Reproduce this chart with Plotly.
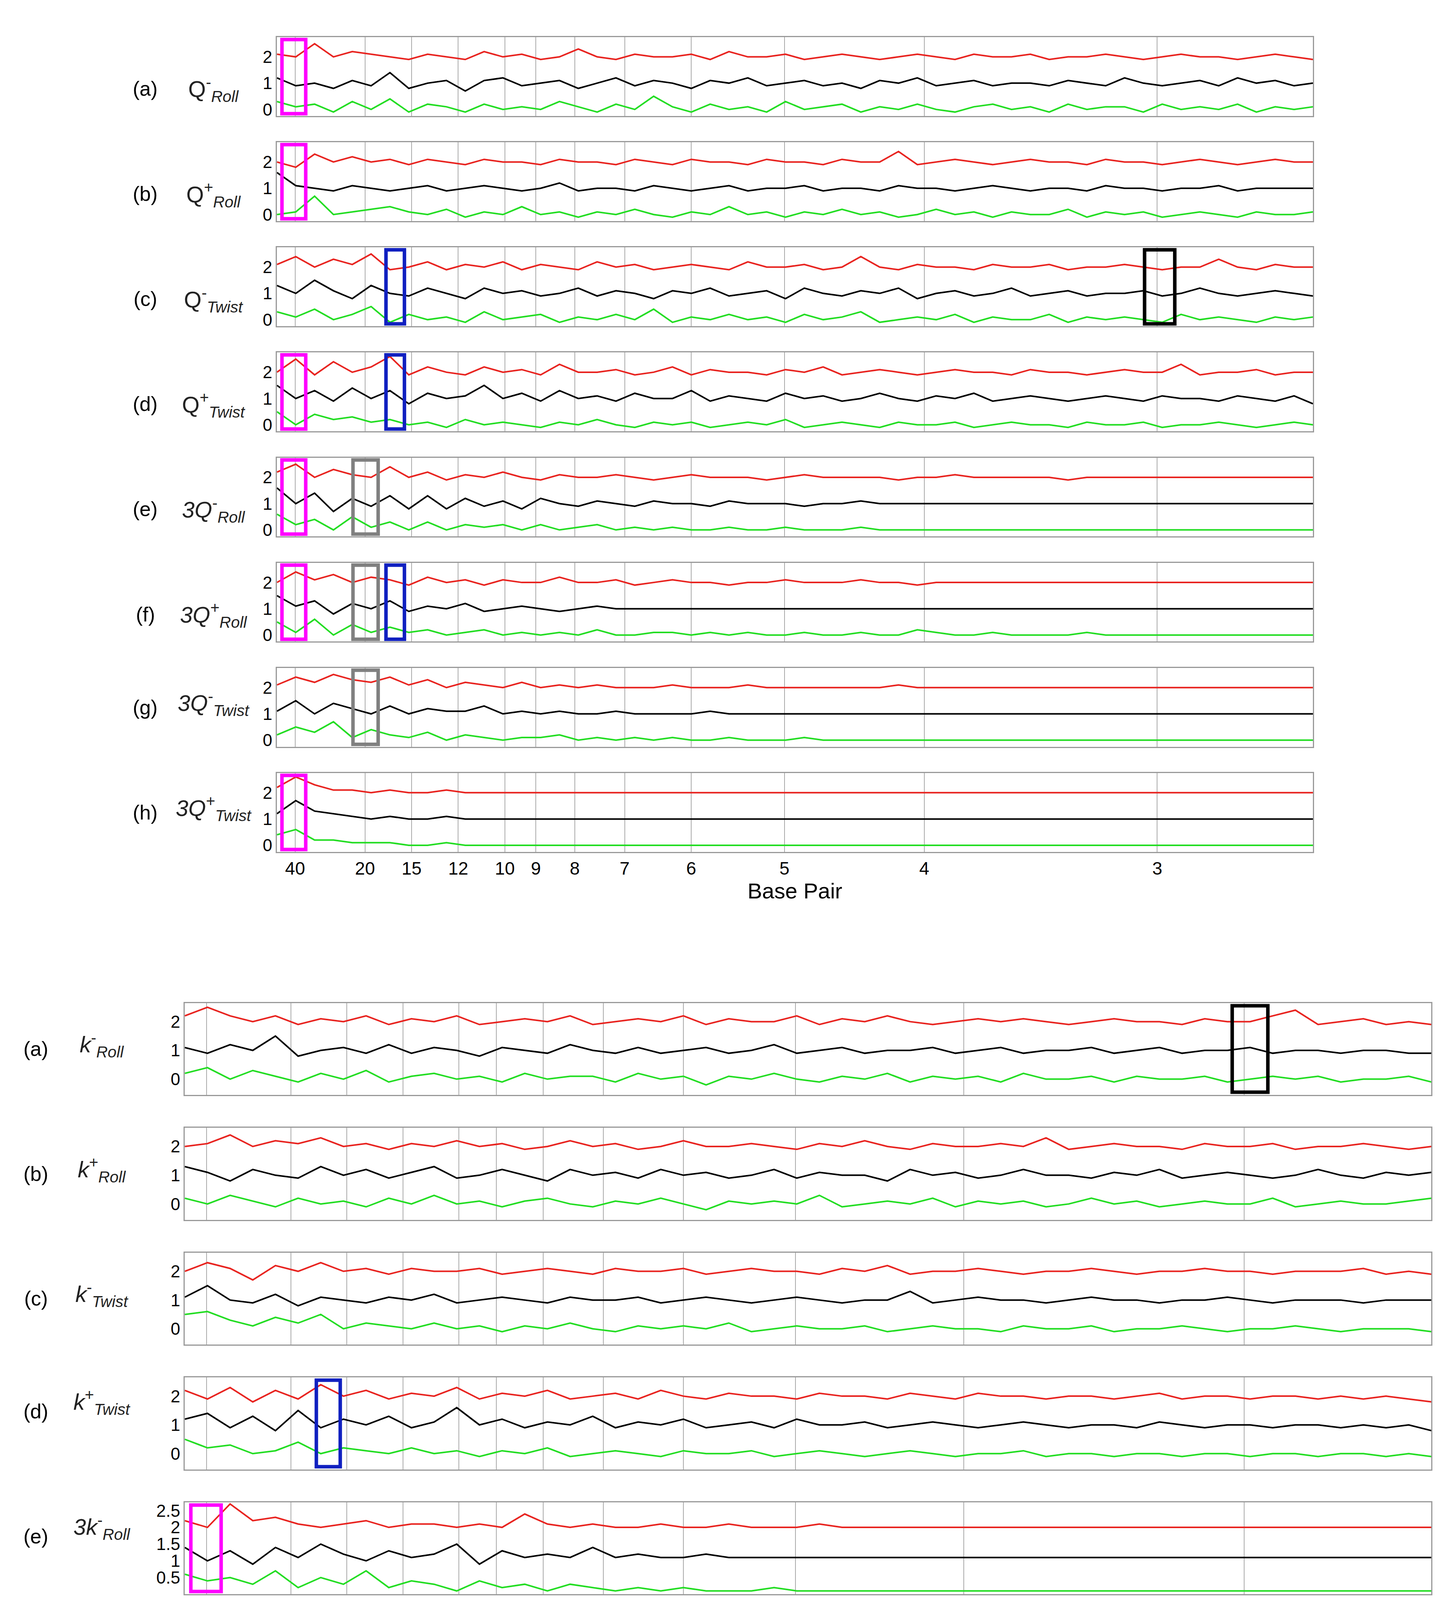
import numpy as np
import plotly.graph_objects as go

# tick labels (base pair period) shown on the frequency axis
bp_ticks = [40, 20, 15, 12, 10, 9, 8, 7, 6, 5, 4, 3]
freq_min, freq_max = 0.0185, 0.389

panel_letters = ["(a)", "(b)", "(c)", "(d)", "(e)", "(f)", "(g)", "(h)"]
top_names = ["Q<sup>-</sup><sub><i>Roll</i></sub>", "Q<sup>+</sup><sub><i>Roll</i></sub>",
             "Q<sup>-</sup><sub><i>Twist</i></sub>", "Q<sup>+</sup><sub><i>Twist</i></sub>",
             "<i>3Q</i><sup>-</sup><sub><i>Roll</i></sub>", "<i>3Q</i><sup>+</sup><sub><i>Roll</i></sub>",
             "<i>3Q</i><sup>-</sup><sub><i>Twist</i></sub>", "<i>3Q</i><sup>+</sup><sub><i>Twist</i></sub>"]
bot_names = ["<i>k</i><sup>-</sup><sub><i>Roll</i></sub>", "<i>k</i><sup>+</sup><sub><i>Roll</i></sub>",
             "<i>k</i><sup>-</sup><sub><i>Twist</i></sub>", "<i>k</i><sup>+</sup><sub><i>Twist</i></sub>",
             "<i>3k</i><sup>-</sup><sub><i>Roll</i></sub>", "<i>3k</i><sup>+</sup><sub><i>Roll</i></sub>",
             "<i>3k</i><sup>-</sup><sub><i>Twist</i></sub>", "<i>3k</i><sup>+</sup><sub><i>Twist</i></sub>"]

# ---- top group series (red ~2, black ~1, green ~0) ----
top_a_r = [2.1,2.0,2.5,2.0,2.2,2.1,2.0,1.9,2.1,2.0,1.9,2.2,2.0,2.1,1.9,2.0,2.3,2.0,1.9,2.1,2.0,2.0,2.1,1.9,2.2,2.0,2.0,2.1,1.9,2.0,2.1,2.0,1.9,2.0,2.1,2.0,1.9,2.1,2.0,2.0,2.1,1.9,2.0,2.0,2.1,2.0,1.9,2.0,2.1,2.0,2.0,1.9,2.0,2.1,2.0,1.9]
top_a_k = [1.2,0.9,1.0,0.8,1.1,0.9,1.4,0.8,1.0,1.1,0.7,1.1,1.2,0.9,1.0,1.1,0.8,1.0,1.2,0.9,1.1,1.0,0.8,1.1,1.0,1.2,0.9,1.0,1.1,0.9,1.0,0.8,1.1,1.0,1.2,0.9,1.0,1.1,0.9,1.0,1.0,0.9,1.1,1.0,0.9,1.2,1.0,0.9,1.0,1.1,0.9,1.2,1.0,1.1,0.9,1.0]
top_a_g = [0.3,0.1,0.2,-0.1,0.3,0.0,0.4,-0.1,0.2,0.1,-0.1,0.2,0.0,0.1,0.0,0.3,0.1,-0.1,0.2,0.0,0.5,0.1,-0.1,0.2,0.0,0.1,-0.1,0.3,0.0,0.1,0.2,-0.1,0.1,0.0,0.2,0.0,-0.1,0.1,0.2,0.0,0.1,-0.1,0.2,0.0,0.1,0.1,-0.1,0.2,0.0,0.1,0.0,0.2,-0.1,0.1,0.0,0.1]
top_b_r = [2.0,1.8,2.3,2.0,2.2,2.0,2.1,1.9,2.1,2.0,1.9,2.1,2.0,2.0,1.9,2.1,2.0,2.0,1.9,2.1,2.0,1.9,2.1,2.0,2.0,1.9,2.1,2.0,2.0,1.9,2.1,2.0,2.0,2.4,1.9,2.0,2.1,2.0,1.9,2.0,2.1,2.0,2.0,1.9,2.1,2.0,2.0,1.9,2.0,2.1,2.0,1.9,2.0,2.1,2.0,2.0]
top_b_k = [1.6,1.1,1.0,0.9,1.1,1.0,0.9,1.0,1.1,0.9,1.0,1.1,1.0,0.9,1.0,1.2,0.9,1.0,1.0,0.9,1.1,1.0,0.9,1.0,1.1,0.9,1.0,1.0,1.1,0.9,1.0,1.0,0.9,1.1,1.0,1.0,0.9,1.0,1.1,1.0,0.9,1.0,1.0,0.9,1.1,1.0,1.0,0.9,1.0,1.0,1.1,0.9,1.0,1.0,1.0,1.0]
top_b_g = [0.0,0.1,0.7,0.0,0.1,0.2,0.3,0.1,0.0,0.2,-0.1,0.1,0.0,0.3,0.0,0.1,-0.1,0.1,0.0,0.2,0.0,-0.1,0.1,0.0,0.3,0.0,0.1,-0.1,0.1,0.0,0.2,0.0,0.1,-0.1,0.0,0.2,0.0,0.1,-0.1,0.1,0.0,0.0,0.2,-0.1,0.1,0.0,0.1,-0.1,0.0,0.1,0.0,-0.1,0.1,0.0,0.0,0.1]
top_c_r = [2.1,2.4,2.0,2.3,2.1,2.5,1.9,2.0,2.2,1.9,2.1,2.0,2.2,1.9,2.1,2.0,1.9,2.2,2.0,2.1,1.9,2.0,2.1,2.0,1.9,2.2,2.0,2.0,2.1,1.9,2.0,2.4,2.0,1.9,2.1,2.0,2.0,1.9,2.1,2.0,2.0,2.1,1.9,2.0,2.0,2.1,2.0,1.9,2.0,2.0,2.3,2.0,1.9,2.1,2.0,2.0]
top_c_k = [1.3,1.0,1.5,1.1,0.8,1.3,1.0,0.9,1.2,1.0,0.8,1.2,1.0,1.1,0.9,1.0,1.2,0.9,1.1,1.0,0.8,1.1,1.0,1.2,0.9,1.0,1.1,0.8,1.2,1.0,0.9,1.1,1.0,1.2,0.8,1.0,1.1,0.9,1.0,1.2,0.9,1.0,1.1,0.9,1.0,1.0,1.1,0.9,1.0,1.2,1.0,0.9,1.0,1.1,1.0,0.9]
top_c_g = [0.3,0.1,0.4,0.0,0.2,0.5,-0.1,0.2,0.0,0.1,-0.1,0.3,0.0,0.1,0.2,-0.1,0.1,0.0,0.2,0.0,0.4,-0.1,0.1,0.0,0.2,0.0,0.1,-0.1,0.2,0.0,0.1,0.3,-0.1,0.0,0.1,0.0,0.2,-0.1,0.1,0.0,0.0,0.2,-0.1,0.1,0.0,0.1,0.0,-0.1,0.2,0.0,0.1,0.0,-0.1,0.1,0.0,0.1]
top_d_r = [2.0,2.5,1.9,2.4,2.0,2.2,2.6,1.9,2.2,2.0,1.9,2.2,2.0,2.1,1.9,2.3,2.0,2.0,2.1,1.9,2.0,2.2,1.9,2.1,2.0,2.0,1.9,2.1,2.0,2.2,1.9,2.0,2.1,2.0,1.9,2.0,2.1,2.0,2.0,1.9,2.1,2.0,2.0,1.9,2.0,2.1,2.0,2.0,2.3,1.9,2.0,2.0,2.1,1.9,2.0,2.0]
top_d_k = [1.5,1.0,1.3,0.9,1.4,1.0,1.3,0.8,1.2,1.0,1.1,1.5,1.0,1.2,0.9,1.3,1.0,1.1,0.9,1.2,1.0,1.0,1.3,0.9,1.1,1.0,0.9,1.2,1.0,1.1,0.9,1.0,1.2,1.0,0.9,1.1,1.0,1.2,0.9,1.0,1.1,1.0,0.9,1.0,1.1,1.0,0.9,1.1,1.0,1.0,0.9,1.1,1.0,0.9,1.1,0.8]
top_d_g = [0.5,0.0,0.4,0.2,0.3,0.1,0.2,0.0,0.1,-0.1,0.2,0.0,0.1,0.0,-0.1,0.1,0.0,0.2,0.0,-0.1,0.1,0.0,0.1,-0.1,0.0,0.1,0.0,0.2,-0.1,0.0,0.1,0.0,-0.1,0.1,0.0,0.0,0.1,-0.1,0.0,0.1,0.0,0.0,-0.1,0.1,0.0,0.0,0.1,-0.1,0.0,0.0,0.1,0.0,-0.1,0.0,0.1,0.0]
top_e_r = [2.2,2.5,2.0,2.3,2.1,2.0,2.4,2.0,2.2,1.9,2.1,2.0,2.2,2.0,1.9,2.1,2.0,2.0,2.1,2.0,1.9,2.0,2.1,2.0,2.0,2.0,1.9,2.0,2.1,2.0,2.0,2.0,2.0,1.9,2.0,2.0,2.1,2.0,2.0,2.0,2.0,2.0,1.9,2.0,2.0,2.0,2.0,2.0,2.0,2.0,2.0,2.0,2.0,2.0,2.0,2.0]
top_e_k = [1.6,1.0,1.4,0.7,1.2,0.9,1.3,0.8,1.3,0.8,1.2,0.9,1.1,0.8,1.2,1.0,0.9,1.1,1.0,0.9,1.1,1.0,1.0,0.9,1.1,1.0,1.0,1.0,0.9,1.0,1.0,1.1,1.0,1.0,1.0,1.0,1.0,1.0,1.0,1.0,1.0,1.0,1.0,1.0,1.0,1.0,1.0,1.0,1.0,1.0,1.0,1.0,1.0,1.0,1.0,1.0]
top_e_g = [0.6,0.2,0.4,0.0,0.5,0.1,0.3,0.0,0.3,0.0,0.2,0.1,0.2,0.0,0.2,0.0,0.1,0.2,0.0,0.1,0.0,0.1,0.0,0.0,0.1,0.0,0.0,0.1,0.0,0.0,0.0,0.1,0.0,0.0,0.0,0.0,0.0,0.0,0.0,0.0,0.0,0.0,0.0,0.0,0.0,0.0,0.0,0.0,0.0,0.0,0.0,0.0,0.0,0.0,0.0,0.0]
top_f_r = [2.0,2.4,2.1,2.3,2.0,2.2,2.1,1.9,2.2,2.0,2.1,1.9,2.1,2.0,2.0,2.2,2.0,2.0,2.1,1.9,2.0,2.1,2.0,2.0,1.9,2.0,2.0,2.1,2.0,2.0,2.0,2.1,2.0,2.0,1.9,2.0,2.0,2.0,2.0,2.0,2.0,2.0,2.0,2.0,2.0,2.0,2.0,2.0,2.0,2.0,2.0,2.0,2.0,2.0,2.0,2.0]
top_f_k = [1.5,1.1,1.3,0.8,1.2,1.0,1.3,0.9,1.1,1.0,1.2,0.9,1.0,1.1,1.0,0.9,1.0,1.1,1.0,1.0,1.0,1.0,1.0,1.0,1.0,1.0,1.0,1.0,1.0,1.0,1.0,1.0,1.0,1.0,1.0,1.0,1.0,1.0,1.0,1.0,1.0,1.0,1.0,1.0,1.0,1.0,1.0,1.0,1.0,1.0,1.0,1.0,1.0,1.0,1.0,1.0]
top_f_g = [0.5,0.1,0.6,0.0,0.4,0.1,0.3,0.1,0.2,0.0,0.1,0.2,0.0,0.1,0.0,0.1,0.0,0.2,0.0,0.0,0.1,0.1,0.0,0.1,0.0,0.1,0.0,0.0,0.1,0.0,0.0,0.1,0.0,0.0,0.2,0.1,0.0,0.0,0.1,0.0,0.0,0.0,0.0,0.1,0.0,0.0,0.0,0.0,0.0,0.0,0.0,0.0,0.0,0.0,0.0,0.0]
top_g_r = [2.1,2.4,2.2,2.5,2.3,2.2,2.4,2.1,2.3,2.0,2.2,2.1,2.0,2.2,2.0,2.1,2.0,2.1,2.0,2.0,2.0,2.1,2.0,2.0,2.0,2.1,2.0,2.0,2.0,2.0,2.0,2.0,2.0,2.1,2.0,2.0,2.0,2.0,2.0,2.0,2.0,2.0,2.0,2.0,2.0,2.0,2.0,2.0,2.0,2.0,2.0,2.0,2.0,2.0,2.0,2.0]
top_g_k = [1.1,1.5,1.0,1.4,1.2,1.0,1.3,1.0,1.2,1.1,1.1,1.3,1.0,1.1,1.0,1.1,1.0,1.0,1.1,1.0,1.0,1.0,1.0,1.1,1.0,1.0,1.0,1.0,1.0,1.0,1.0,1.0,1.0,1.0,1.0,1.0,1.0,1.0,1.0,1.0,1.0,1.0,1.0,1.0,1.0,1.0,1.0,1.0,1.0,1.0,1.0,1.0,1.0,1.0,1.0,1.0]
top_g_g = [0.2,0.5,0.3,0.7,0.1,0.4,0.2,0.1,0.3,0.0,0.2,0.1,0.0,0.1,0.1,0.2,0.0,0.1,0.0,0.1,0.0,0.1,0.0,0.0,0.1,0.0,0.0,0.0,0.1,0.0,0.0,0.0,0.0,0.0,0.0,0.0,0.0,0.0,0.0,0.0,0.0,0.0,0.0,0.0,0.0,0.0,0.0,0.0,0.0,0.0,0.0,0.0,0.0,0.0,0.0,0.0]
top_h_r = [2.2,2.6,2.3,2.1,2.1,2.0,2.1,2.0,2.0,2.1,2.0,2.0,2.0,2.0,2.0,2.0,2.0,2.0,2.0,2.0,2.0,2.0,2.0,2.0,2.0,2.0,2.0,2.0,2.0,2.0,2.0,2.0,2.0,2.0,2.0,2.0,2.0,2.0,2.0,2.0,2.0,2.0,2.0,2.0,2.0,2.0,2.0,2.0,2.0,2.0,2.0,2.0,2.0,2.0,2.0,2.0]
top_h_k = [1.2,1.7,1.3,1.2,1.1,1.0,1.1,1.0,1.0,1.1,1.0,1.0,1.0,1.0,1.0,1.0,1.0,1.0,1.0,1.0,1.0,1.0,1.0,1.0,1.0,1.0,1.0,1.0,1.0,1.0,1.0,1.0,1.0,1.0,1.0,1.0,1.0,1.0,1.0,1.0,1.0,1.0,1.0,1.0,1.0,1.0,1.0,1.0,1.0,1.0,1.0,1.0,1.0,1.0,1.0,1.0]
top_h_g = [0.4,0.6,0.2,0.2,0.1,0.1,0.1,0.0,0.0,0.1,0.0,0.0,0.0,0.0,0.0,0.0,0.0,0.0,0.0,0.0,0.0,0.0,0.0,0.0,0.0,0.0,0.0,0.0,0.0,0.0,0.0,0.0,0.0,0.0,0.0,0.0,0.0,0.0,0.0,0.0,0.0,0.0,0.0,0.0,0.0,0.0,0.0,0.0,0.0,0.0,0.0,0.0,0.0,0.0,0.0,0.0]

# ---- bottom group series ----
bot_a_r = [2.2,2.5,2.2,2.0,2.2,1.9,2.1,2.0,2.2,1.9,2.1,2.0,2.2,1.9,2.0,2.1,2.0,2.2,1.9,2.0,2.1,2.0,2.2,1.9,2.1,2.0,2.0,2.2,1.9,2.1,2.0,2.2,2.0,1.9,2.0,2.1,2.0,2.1,2.0,1.9,2.0,2.1,2.0,2.0,1.9,2.1,2.0,2.0,2.2,2.4,1.9,2.0,2.1,1.9,2.0,1.9]
bot_a_k = [1.1,0.9,1.2,1.0,1.5,0.8,1.0,1.1,0.9,1.2,0.9,1.1,1.0,0.8,1.1,1.0,0.9,1.2,1.0,0.9,1.1,0.9,1.0,1.1,0.9,1.0,1.2,0.9,1.0,1.1,0.9,1.0,1.0,1.1,0.9,1.0,1.1,0.9,1.0,1.0,1.1,0.9,1.0,1.1,0.9,1.0,1.0,1.1,0.9,1.0,1.0,0.9,1.0,1.0,0.9,0.9]
bot_a_g = [0.2,0.4,0.0,0.3,0.1,-0.1,0.2,0.0,0.3,-0.1,0.1,0.2,0.0,0.1,-0.1,0.2,0.0,0.1,0.1,-0.1,0.2,0.0,0.1,-0.2,0.1,0.0,0.2,0.0,-0.1,0.1,0.0,0.2,-0.1,0.1,0.0,0.1,-0.1,0.2,0.0,0.0,0.1,-0.1,0.1,0.0,0.0,0.1,-0.1,0.0,0.1,0.0,0.1,-0.1,0.0,0.0,0.1,-0.1]
bot_b_r = [2.0,2.1,2.4,2.0,2.2,2.1,2.3,2.0,2.1,1.9,2.1,2.0,2.2,2.0,2.1,1.9,2.0,2.2,2.0,2.1,1.9,2.0,2.2,2.0,2.0,2.1,2.0,1.9,2.1,2.0,2.2,2.0,1.9,2.1,2.0,2.0,2.1,2.0,2.3,1.9,2.0,2.1,2.0,2.0,1.9,2.1,2.0,2.0,2.1,1.9,2.0,2.0,2.1,2.0,1.9,2.0]
bot_b_k = [1.3,1.1,0.8,1.2,1.0,0.9,1.3,1.0,1.2,0.9,1.1,1.3,0.9,1.0,1.2,1.0,0.8,1.2,1.0,1.1,0.9,1.2,1.0,1.1,0.9,1.0,1.2,0.9,1.1,1.0,1.0,0.8,1.2,1.0,1.1,0.9,1.0,1.2,1.0,1.0,0.9,1.1,1.0,1.2,0.9,1.0,1.1,1.0,0.9,1.0,1.2,1.0,0.9,1.1,1.0,1.1]
bot_b_g = [0.2,0.0,0.3,0.1,-0.1,0.2,0.0,0.1,-0.1,0.2,0.0,0.3,0.0,0.1,-0.1,0.1,0.2,0.0,-0.1,0.1,0.0,0.2,0.0,-0.2,0.1,0.0,0.1,0.0,0.3,-0.1,0.0,0.1,0.0,0.2,-0.1,0.1,0.0,0.1,-0.1,0.0,0.2,0.0,0.1,-0.1,0.0,0.1,0.0,0.0,0.2,-0.1,0.0,0.1,0.0,0.0,0.1,0.2]
bot_c_r = [2.0,2.3,2.1,1.7,2.2,2.0,2.3,2.0,2.1,1.9,2.1,2.0,2.0,2.1,1.9,2.0,2.1,2.0,1.9,2.1,2.0,2.0,2.1,1.9,2.0,2.1,2.0,2.0,1.9,2.1,2.0,2.2,1.9,2.0,2.0,2.1,2.0,1.9,2.0,2.0,2.1,2.0,1.9,2.0,2.0,2.1,2.0,2.0,1.9,2.0,2.0,2.0,2.1,1.9,2.0,1.9]
bot_c_k = [1.1,1.5,1.0,0.9,1.2,0.8,1.1,1.0,0.9,1.1,1.0,1.2,0.9,1.0,1.1,1.0,0.9,1.1,1.0,1.0,1.1,0.9,1.0,1.1,1.0,0.9,1.0,1.1,1.0,0.9,1.0,1.0,1.3,0.9,1.0,1.1,1.0,1.0,0.9,1.0,1.1,1.0,1.0,0.9,1.0,1.0,1.1,1.0,0.9,1.0,1.0,1.0,0.9,1.0,1.0,1.0]
bot_c_g = [0.5,0.6,0.3,0.1,0.4,0.2,0.5,0.0,0.2,0.1,0.0,0.2,0.0,0.1,-0.1,0.1,0.0,0.2,0.0,-0.1,0.1,0.0,0.1,0.0,0.2,-0.1,0.0,0.1,0.0,0.0,0.1,-0.1,0.0,0.1,0.0,0.0,-0.1,0.1,0.0,0.0,0.1,-0.1,0.0,0.0,0.1,0.0,-0.1,0.0,0.0,0.1,0.0,-0.1,0.0,0.0,0.0,-0.1]
bot_d_r = [2.2,1.9,2.3,1.8,2.2,1.9,2.4,2.0,2.2,1.9,2.1,2.0,2.3,1.9,2.1,2.0,2.2,1.9,2.0,2.1,1.9,2.2,2.0,1.9,2.1,2.0,2.0,1.9,2.1,2.0,2.0,1.9,2.1,2.0,1.9,2.1,2.0,2.0,1.9,2.0,2.0,1.9,2.0,2.1,1.9,2.0,2.0,1.9,2.0,2.0,1.9,2.0,1.9,2.0,1.9,1.8]
bot_d_k = [1.2,1.4,0.9,1.3,0.8,1.5,0.9,1.2,1.0,1.3,0.9,1.1,1.6,1.0,1.2,0.9,1.1,1.0,1.3,0.9,1.1,1.0,1.2,0.9,1.0,1.1,0.9,1.2,1.0,1.0,1.1,0.9,1.0,1.1,1.0,0.9,1.0,1.1,1.0,0.9,1.0,1.0,0.9,1.1,1.0,0.9,1.0,1.0,0.9,1.0,1.0,0.9,1.0,0.9,1.0,0.8]
bot_d_g = [0.5,0.2,0.3,0.0,0.1,0.4,0.0,0.2,0.1,0.0,0.2,0.0,0.1,-0.1,0.1,0.0,0.2,-0.1,0.0,0.1,0.0,-0.1,0.1,0.0,0.0,0.1,-0.1,0.0,0.1,0.0,-0.1,0.0,0.1,0.0,-0.1,0.0,0.0,0.1,-0.1,0.0,0.0,-0.1,0.0,0.0,-0.1,0.0,0.0,-0.1,0.0,0.0,-0.1,0.0,0.0,-0.1,0.0,-0.1]
bot_e_r = [2.2,2.0,2.7,2.2,2.3,2.1,2.0,2.1,2.2,2.0,2.1,2.1,2.0,2.1,2.0,2.4,2.1,2.0,2.1,2.0,2.0,2.1,2.0,2.0,2.1,2.0,2.0,2.0,2.1,2.0,2.0,2.0,2.0,2.0,2.0,2.0,2.0,2.0,2.0,2.0,2.0,2.0,2.0,2.0,2.0,2.0,2.0,2.0,2.0,2.0,2.0,2.0,2.0,2.0,2.0,2.0]
bot_e_k = [1.4,1.0,1.3,0.9,1.4,1.1,1.5,1.2,1.0,1.3,1.1,1.2,1.5,0.9,1.3,1.1,1.2,1.1,1.4,1.1,1.2,1.1,1.1,1.2,1.1,1.1,1.1,1.1,1.1,1.1,1.1,1.1,1.1,1.1,1.1,1.1,1.1,1.1,1.1,1.1,1.1,1.1,1.1,1.1,1.1,1.1,1.1,1.1,1.1,1.1,1.1,1.1,1.1,1.1,1.1,1.1]
bot_e_g = [0.6,0.4,0.5,0.3,0.7,0.2,0.5,0.3,0.7,0.2,0.4,0.3,0.1,0.4,0.2,0.3,0.1,0.3,0.2,0.1,0.2,0.1,0.2,0.1,0.1,0.1,0.2,0.1,0.1,0.1,0.1,0.1,0.1,0.1,0.1,0.1,0.1,0.1,0.1,0.1,0.1,0.1,0.1,0.1,0.1,0.1,0.1,0.1,0.1,0.1,0.1,0.1,0.1,0.1,0.1,0.1]
bot_f_r = [2.0,2.2,2.6,2.1,2.4,2.0,2.2,2.1,2.0,2.2,2.0,2.1,2.0,2.1,2.0,2.1,2.0,2.0,2.1,2.0,2.0,2.0,2.0,2.0,2.0,2.0,2.0,2.0,2.0,2.0,2.0,2.0,2.0,2.0,2.0,2.0,2.0,2.0,2.0,2.0,2.0,2.0,2.0,2.0,2.0,2.0,2.0,2.0,2.0,2.0,2.0,2.0,2.0,2.0,2.0,2.0]
bot_f_k = [1.5,1.2,1.4,1.2,1.3,1.1,1.2,0.9,1.2,1.0,1.3,1.1,1.0,1.2,1.0,1.1,0.9,1.1,1.0,1.0,1.1,1.0,1.0,1.0,1.0,1.1,1.0,1.0,1.0,1.0,1.0,1.0,1.0,1.0,1.0,1.0,1.0,1.0,1.0,1.0,1.0,1.0,1.0,1.0,1.0,1.0,1.0,1.0,1.0,1.0,1.0,1.0,1.0,1.0,1.0,0.9]
bot_f_g = [0.4,0.3,0.5,0.1,0.3,0.0,0.4,0.1,0.3,0.0,0.1,0.2,0.0,0.1,0.3,0.0,0.1,0.0,0.1,0.0,0.1,0.0,0.0,0.1,0.0,0.0,0.0,0.0,0.1,0.2,0.0,0.0,0.0,0.0,0.0,0.0,0.0,0.0,0.0,0.0,0.0,0.0,0.0,0.0,0.0,0.0,0.2,0.0,0.0,0.0,0.0,0.0,0.0,0.0,0.0,0.0]
bot_g_r = [2.1,2.5,2.2,2.3,2.1,2.0,2.2,2.0,2.1,2.0,2.0,2.0,2.0,2.0,2.0,2.0,2.0,2.0,2.0,2.0,2.0,2.0,2.0,2.0,2.0,2.0,2.0,2.0,2.0,2.0,2.0,2.0,2.0,2.0,2.0,2.0,2.0,2.0,2.0,2.0,2.0,2.0,2.0,2.0,2.0,2.0,2.0,2.0,2.0,2.0,2.0,2.0,2.0,2.0,2.0,2.0]
bot_g_k = [1.3,1.0,1.2,1.0,1.1,1.0,1.2,1.0,1.0,1.1,1.0,1.0,1.0,1.0,1.0,1.0,1.0,1.0,1.0,1.0,1.0,1.0,1.0,1.0,1.0,1.0,1.0,1.0,1.0,1.0,1.0,1.0,1.0,1.0,1.0,1.0,1.0,1.0,1.0,1.0,1.0,1.0,1.0,1.0,1.0,1.0,1.0,1.0,1.0,1.0,1.0,1.0,1.0,1.0,1.0,1.0]
bot_g_g = [0.4,0.7,0.2,0.3,0.1,0.2,0.1,0.0,0.1,0.0,0.0,0.1,0.0,0.0,0.0,0.0,0.0,0.0,0.0,0.0,0.0,0.0,0.0,0.0,0.0,0.0,0.0,0.0,0.0,0.0,0.0,0.0,0.0,0.0,0.0,0.0,0.0,0.0,0.0,0.0,0.0,0.0,0.0,0.0,0.0,0.0,0.0,0.0,0.0,0.0,0.0,0.0,0.0,0.0,0.0,0.0]
bot_h_r = [2.3,2.4,2.2,2.3,2.1,2.0,2.1,2.0,2.0,2.0,2.0,2.0,2.0,2.0,2.0,2.0,2.0,2.0,2.0,2.0,2.0,2.0,2.0,2.0,2.0,2.0,2.0,2.0,2.0,2.0,2.0,2.0,2.0,2.0,2.0,2.0,2.0,2.0,2.0,2.0,2.0,2.0,2.0,2.0,2.0,2.0,2.0,2.0,2.0,2.0,2.0,2.0,2.0,2.0,2.0,2.0]
bot_h_k = [1.4,1.1,1.2,1.0,1.1,1.0,1.1,1.0,1.0,1.0,1.0,1.0,1.0,1.0,1.0,1.0,1.0,1.0,1.0,1.0,1.0,1.0,1.0,1.0,1.0,1.0,1.0,1.0,1.0,1.0,1.0,1.0,1.0,1.0,1.0,1.0,1.0,1.0,1.0,1.0,1.0,1.0,1.0,1.0,1.0,1.0,1.0,1.0,1.0,1.0,1.0,1.0,1.0,1.0,1.0,1.0]
bot_h_g = [0.6,0.3,0.2,0.1,0.1,0.1,0.0,0.1,0.0,0.0,0.0,0.0,0.0,0.0,0.0,0.0,0.0,0.0,0.0,0.0,0.0,0.0,0.0,0.0,0.0,0.0,0.0,0.0,0.0,0.0,0.0,0.0,0.0,0.0,0.0,0.0,0.0,0.0,0.0,0.0,0.0,0.0,0.0,0.0,0.0,0.0,0.0,0.0,0.0,0.0,0.0,0.0,0.0,0.0,0.0,0.0]

top_series = [(top_a_r, top_a_k, top_a_g), (top_b_r, top_b_k, top_b_g), (top_c_r, top_c_k, top_c_g),
              (top_d_r, top_d_k, top_d_g), (top_e_r, top_e_k, top_e_g), (top_f_r, top_f_k, top_f_g),
              (top_g_r, top_g_k, top_g_g), (top_h_r, top_h_k, top_h_g)]
bot_series = [(bot_a_r, bot_a_k, bot_a_g), (bot_b_r, bot_b_k, bot_b_g), (bot_c_r, bot_c_k, bot_c_g),
              (bot_d_r, bot_d_k, bot_d_g), (bot_e_r, bot_e_k, bot_e_g), (bot_f_r, bot_f_k, bot_f_g),
              (bot_g_r, bot_g_k, bot_g_g), (bot_h_r, bot_h_k, bot_h_g)]

# highlight boxes: (group, panel, colour, x0, x1) in frequency units
boxes = [
    ("top", 0, "magenta", 0.0203, 0.0288), ("top", 1, "magenta", 0.0203, 0.0288),
    ("top", 2, "#1020c0", 0.0575, 0.0641), ("top", 2, "black", 0.3288, 0.3396),
    ("top", 3, "magenta", 0.0203, 0.0288), ("top", 3, "#1020c0", 0.0575, 0.0641),
    ("top", 4, "magenta", 0.0203, 0.0288), ("top", 4, "gray", 0.0457, 0.0547),
    ("top", 5, "magenta", 0.0203, 0.0288), ("top", 5, "gray", 0.0457, 0.0547),
    ("top", 5, "#1020c0", 0.0575, 0.0641), ("top", 6, "gray", 0.0457, 0.0547),
    ("top", 7, "magenta", 0.0203, 0.0288),
    ("bot", 0, "black", 0.3298, 0.3404), ("bot", 3, "#1020c0", 0.0576, 0.0647),
    ("bot", 4, "magenta", 0.0203, 0.0293), ("bot", 6, "magenta", 0.0203, 0.0293),
    ("bot", 7, "#1020c0", 0.0576, 0.0647),
]

W, H = 3708, 5300
S = W / 1100.0  # reference was measured on an 1100 px wide copy


def py(v):
    return 1 - v * S / H


def px(v):
    return v * S / W


colors = ["#e8231f", "black", "#22dd22"]
fig = go.Figure()
layout = {}
shapes = []
annotations = []
tickvals = [1.0 / b for b in bp_ticks]

groups = [
    ("top", top_series, top_names, (208, 995), 25, 80, 60, [-0.25, 2.75], 108, 160),
    ("bot", bot_series, bot_names, (138, 1085), 760, 95, 70, [-0.55, 2.65], 25, 75),
]
n = 0
for gname, series, names, (xl, xr), y0, step, hgt, yr, lx, nx in groups:
    for i, trio in enumerate(series):
        n += 1
        ax = "" if n == 1 else str(n)
        top = y0 + step * i
        yrange = list(yr)
        yt = [0, 1, 2]
        if gname == "bot" and i == 4:
            yrange = [0.0, 2.75]
            yt = [0.5, 1, 1.5, 2, 2.5]
        for vals, c in zip(trio, colors):
            x = np.linspace(freq_min, freq_max, len(vals))
            fig.add_trace(go.Scatter(x=x, y=vals, mode="lines", line=dict(color=c, width=4),
                                     xaxis="x" + ax, yaxis="y" + ax, showlegend=False))
        last = i == 7
        layout["xaxis" + ax] = dict(
            domain=[px(xl), px(xr)], anchor="y" + ax, range=[freq_min, freq_max],
            tickvals=tickvals, ticktext=[str(b) for b in bp_ticks], showticklabels=last,
            showgrid=True, gridcolor="#aaaaaa", gridwidth=2, zeroline=False,
            showline=True, linecolor="#999999", linewidth=3, mirror=True, ticks="",
            tickfont=dict(size=46, family="Liberation Sans", color="black"),
            title=dict(text="Base Pair", font=dict(size=56, family="Liberation Sans", color="black"),
                       standoff=8) if last else None)
        layout["yaxis" + ax] = dict(
            domain=[py(top + hgt), py(top)], anchor="x" + ax, range=yrange, tickvals=yt,
            showgrid=False, zeroline=False, showline=True, linecolor="#999999", linewidth=3,
            mirror=True, ticks="", tickfont=dict(size=44, family="Liberation Sans", color="black"))
        ymid = py(top + hgt / 2)
        annotations.append(dict(text=panel_letters[i], x=px(lx), y=ymid, xref="paper", yref="paper",
                                showarrow=False, xanchor="center",
                                font=dict(size=52, family="Liberation Sans", color="black")))
        annotations.append(dict(text=names[i], x=px(nx), y=ymid + 0.002, xref="paper", yref="paper",
                                showarrow=False, xanchor="center",
                                font=dict(size=58, family="Liberation Sans", color="#222222")))
        for g, p, c, x0, x1 in boxes:
            if g == gname and p == i:
                span = yrange[1] - yrange[0]
                shapes.append(dict(type="rect", xref="x" + ax, yref="y" + ax, x0=x0, x1=x1,
                                   y0=yrange[0] + 0.03 * span, y1=yrange[1] - 0.03 * span,
                                   line=dict(color=c, width=9)))

fig.update_layout(width=W, height=H, margin=dict(l=0, r=0, t=0, b=0),
                  plot_bgcolor="white", paper_bgcolor="white",
                  font=dict(family="Liberation Sans", color="black", size=44),
                  shapes=shapes, annotations=annotations, **layout)
fig.write_html("out.html")
